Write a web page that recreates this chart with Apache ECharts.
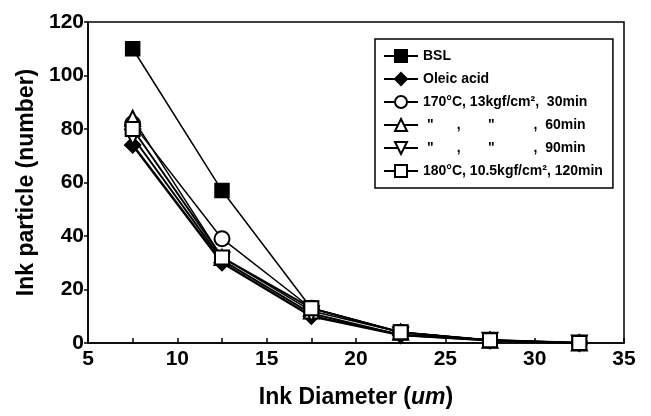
<!DOCTYPE html>
<html>
<head>
<meta charset="utf-8">
<script src="https://cdn.jsdelivr.net/npm/echarts@6/dist/echarts.min.js"></script>
<style>
  html, body { margin: 0; padding: 0; background: #fff; }
  #chart { width: 651px; height: 416px; }
</style>
</head>
<body>
<div id="chart"></div>
<script>
// ink diameter (um)
var diameters = [7.5, 12.5, 17.5, 22.5, 27.5, 32.5];
// ink particle counts
var bsl      = [110, 57, 13, 4, 1, 0];
var oleic    = [74, 30, 10, 3, 1, 0];
var t170_30  = [82, 39, 13, 4, 1, 0];
var t170_60  = [84, 32, 12, 4, 1, 0];
var t170_90  = [77, 31, 11, 3, 1, 0];
var t180_120 = [80, 32, 13, 4, 1, 0];

var legendText = {
  'BSL': 'BSL',
  'Oleic acid': 'Oleic acid',
  '30min': '170\u00b0C, 13kgf/cm\u00b2,  30min',
  '60min': ' "      ,       "          ,  60min',
  '90min': ' "      ,       "          ,  90min',
  '120min': '180\u00b0C, 10.5kgf/cm\u00b2, 120min'
};

var font = "'Liberation Sans Narrow', 'Arial Narrow', 'Liberation Sans', Arial, sans-serif";

function pairs(vals) {
  return diameters.map(function (d, i) { return [d, vals[i]]; });
}

function makeSeries(name, vals, symbol, size, width, rotate) {
  return {
    name: name,
    type: 'line',
    data: pairs(vals),
    symbol: symbol,
    symbolSize: size,
    symbolRotate: rotate || 0,
    showAllSymbol: true,
    lineStyle: { color: '#000', width: width },
    itemStyle: { color: '#000', borderColor: '#000', borderWidth: 1.5 },
    animation: false
  };
}

var myChart = echarts.init(document.getElementById('chart'));
myChart.setOption({
  backgroundColor: '#fff',
  textStyle: { fontFamily: font },
  grid: {
    left: 88, right: 27, top: 22, bottom: 73,
    show: true, borderColor: '#000', borderWidth: 1.5, backgroundColor: 'transparent'
  },
  legend: {
    orient: 'vertical',
    left: 375, top: 39,
    padding: [10, 10, 10, 8],
    itemGap: 9,
    itemWidth: 34,
    itemHeight: 15,
    borderColor: '#000',
    borderWidth: 1.5,
    textStyle: { fontFamily: font, fontWeight: 'bold', fontSize: 14, color: '#000' },
    formatter: function (name) { return legendText[name]; },
    data: ['BSL', 'Oleic acid', '30min', '60min', '90min', '120min']
  },
  xAxis: {
    type: 'value',
    min: 5, max: 35, interval: 5,
    name: 'Ink Diameter ({i|um})',
    nameLocation: 'middle',
    nameGap: 43,
    nameTextStyle: {
      fontFamily: font, fontWeight: 'bold', fontSize: 23, color: '#000',
      rich: { i: { fontFamily: font, fontWeight: 'bold', fontStyle: 'italic', fontSize: 23, color: '#000' } }
    },
    axisLine: { lineStyle: { color: '#000', width: 1.5 } },
    axisTick: { inside: true, length: 5, lineStyle: { color: '#000', width: 1.5 } },
    minorTick: { show: true, splitNumber: 2, length: 5, lineStyle: { color: '#000', width: 1.5 } },
    axisLabel: { fontFamily: font, fontWeight: 'bold', fontSize: 21, color: '#000', margin: 6 },
    splitLine: { show: false }
  },
  yAxis: {
    type: 'value',
    min: 0, max: 120, interval: 20,
    name: 'Ink particle (number)',
    nameLocation: 'middle',
    nameGap: 50,
    nameTextStyle: { fontFamily: font, fontWeight: 'bold', fontSize: 23, color: '#000' },
    axisLine: { show: true, lineStyle: { color: '#000', width: 1.5 } },
    axisTick: { show: true, inside: false, length: 4, lineStyle: { color: '#000', width: 1.5 } },
    axisLabel: { fontFamily: font, fontWeight: 'bold', fontSize: 21, color: '#000', margin: 4 },
    splitLine: { show: false }
  },
  series: [
    makeSeries('BSL', bsl, 'rect', 14, 1.5),
    makeSeries('Oleic acid', oleic, 'diamond', 16, 2.5),
    makeSeries('30min', t170_30, 'emptyCircle', 15, 1.5),
    makeSeries('60min', t170_60, 'emptyTriangle', 15, 1.5),
    makeSeries('90min', t170_90, 'emptyTriangle', 15, 2, 180),
    makeSeries('120min', t180_120, 'emptyRect', 14, 2)
  ]
});
</script>
</body>
</html>
